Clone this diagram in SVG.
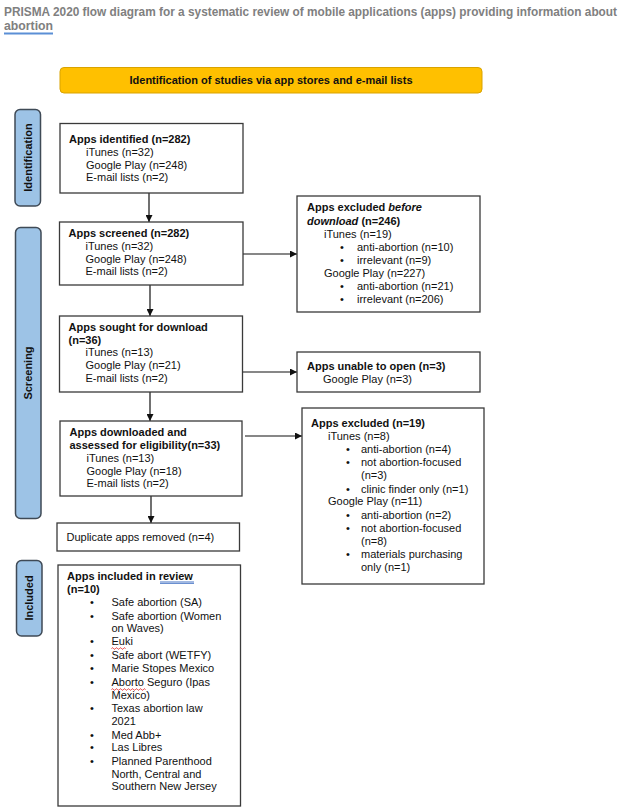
<svg xmlns="http://www.w3.org/2000/svg" width="625" height="811" viewBox="0 0 625 811">
<style>
.t{font-family:"Liberation Sans",Arial,sans-serif;font-size:11px;fill:#111}
.b{font-weight:bold}
.i{font-style:italic}
.box{fill:#fff;stroke:#3a3a3a;stroke-width:1.3}
.bar{fill:#9dc3e6;stroke:#3f4a56;stroke-width:1.5}
.bl{font-family:"Liberation Sans",Arial,sans-serif;font-size:11px;font-weight:bold;fill:#111}
.ln{stroke:#111;stroke-width:1.2;fill:none}
.title{font-family:"Liberation Sans",Arial,sans-serif;font-size:12.5px;font-weight:bold;fill:#808080}
</style>
<defs>
<marker id="ah" viewBox="0 0 10 10" refX="10" refY="5" markerWidth="7" markerHeight="7" markerUnits="userSpaceOnUse" orient="auto">
<path d="M0,0 L10,5 L0,10 z" fill="#111"/>
</marker>
</defs>
<rect width="625" height="811" fill="#fff"/>
<g id="title">
<text class="title" x="4" y="15.5" textLength="180.7" lengthAdjust="spacingAndGlyphs">PRISMA 2020 flow diagram for a</text>
<text class="title" x="188" y="15.5" textLength="157.1" lengthAdjust="spacingAndGlyphs">systematic review of mobile</text>
<text class="title" x="348.3" y="15.5" textLength="164.9" lengthAdjust="spacingAndGlyphs">applications (apps) providing</text>
<text class="title" x="516.5" y="15.5" textLength="100.5" lengthAdjust="spacingAndGlyphs">information about</text>
<text class="title" x="4" y="30" textLength="49" lengthAdjust="spacingAndGlyphs">abortion</text>
<line x1="4" y1="33.5" x2="53" y2="33.5" stroke="#5b8fd6" stroke-width="2"/>
</g>
<g id="header">
<rect x="60" y="67.5" width="422" height="25.5" rx="4" fill="#ffc000" stroke="#d9a300" stroke-width="1"/>
<text class="t b" x="271" y="84" text-anchor="middle">Identification of studies via app stores and e-mail lists</text>
</g>
<g id="bar-identification">
<rect class="bar" x="15" y="109.5" width="25.5" height="96.5" rx="5"/>
<text class="bl" transform="translate(31.5,157.5) rotate(-90)" text-anchor="middle">Identification</text>
</g>
<g id="bar-screening">
<rect class="bar" x="15.5" y="227.5" width="25.5" height="291" rx="5"/>
<text class="bl" transform="translate(32,373) rotate(-90)" text-anchor="middle">Screening</text>
</g>
<g id="bar-included">
<rect class="bar" x="16.5" y="560.5" width="25.5" height="75.5" rx="5"/>
<text class="bl" transform="translate(33,598) rotate(-90)" text-anchor="middle">Included</text>
</g>
<g id="connectors">
<line class="ln" x1="149" y1="193" x2="149" y2="222" marker-end="url(#ah)"/>
<line class="ln" x1="150" y1="285" x2="150" y2="316" marker-end="url(#ah)"/>
<line class="ln" x1="150" y1="392" x2="150" y2="421" marker-end="url(#ah)"/>
<line class="ln" x1="151" y1="496" x2="151" y2="523" marker-end="url(#ah)"/>
<line class="ln" x1="243" y1="254" x2="297" y2="254" marker-end="url(#ah)"/>
<line class="ln" x1="242" y1="372" x2="297" y2="372" marker-end="url(#ah)"/>
<line class="ln" x1="245" y1="436" x2="302" y2="436" marker-end="url(#ah)"/>
</g>
<g id="n-identified">
<rect class="box" x="60" y="123.5" width="183" height="69.5"/>
<text class="t b" x="69" y="143">Apps identified (n=282)</text>
<text class="t" x="86" y="156">iTunes (n=32)</text>
<text class="t" x="86" y="168.5">Google Play (n=248)</text>
<text class="t" x="86" y="181">E-mail lists (n=2)</text>
</g>
<g id="n-screened">
<rect class="box" x="59.5" y="222" width="183.5" height="63"/>
<text class="t b" x="68.5" y="237">Apps screened (n=282)</text>
<text class="t" x="85.5" y="249.5">iTunes (n=32)</text>
<text class="t" x="85.5" y="262.5">Google Play (n=248)</text>
<text class="t" x="85.5" y="275">E-mail lists (n=2)</text>
</g>
<g id="n-excluded-before">
<rect class="box" x="297" y="196" width="183" height="116"/>
<text class="t b" x="307" y="211">Apps excluded <tspan class="i">before</tspan></text>
<text class="t b" x="307" y="224.5"><tspan class="i">download</tspan> (n=246)</text>
<text class="t" x="324" y="237.5">iTunes (n=19)</text>
<text class="t" x="340" y="250.5">•</text>
<text class="t" x="357" y="250.5">anti-abortion (n=10)</text>
<text class="t" x="340" y="263.5">•</text>
<text class="t" x="357" y="263.5">irrelevant (n=9)</text>
<text class="t" x="324" y="276.5">Google Play (n=227)</text>
<text class="t" x="340" y="290">•</text>
<text class="t" x="357" y="290">anti-abortion (n=21)</text>
<text class="t" x="340" y="303">•</text>
<text class="t" x="357" y="303">irrelevant (n=206)</text>
</g>
<g id="n-sought">
<rect class="box" x="59.5" y="316" width="183" height="76"/>
<text class="t b" x="68.5" y="331">Apps sought for download</text>
<text class="t b" x="68.5" y="343.5">(n=36)</text>
<text class="t" x="85.5" y="356">iTunes (n=13)</text>
<text class="t" x="85.5" y="369">Google Play (n=21)</text>
<text class="t" x="85.5" y="382">E-mail lists (n=2)</text>
</g>
<g id="n-unable">
<rect class="box" x="297" y="352" width="183" height="40"/>
<text class="t b" x="307" y="370">Apps unable to open (n=3)</text>
<text class="t" x="323" y="382.5">Google Play (n=3)</text>
</g>
<g id="n-downloaded">
<rect class="box" x="60" y="421" width="182" height="75"/>
<text class="t b" x="69.5" y="436">Apps downloaded and</text>
<text class="t b" x="69.5" y="449">assessed for eligibility(n=33)</text>
<text class="t" x="86.5" y="461.5">iTunes (n=13)</text>
<text class="t" x="86.5" y="474.5">Google Play (n=18)</text>
<text class="t" x="86.5" y="487">E-mail lists (n=2)</text>
</g>
<g id="n-excluded">
<rect class="box" x="302" y="408" width="182" height="176"/>
<text class="t b" x="311" y="427">Apps excluded (n=19)</text>
<text class="t" x="328" y="439.5">iTunes (n=8)</text>
<text class="t" x="346" y="453">•</text>
<text class="t" x="361" y="453">anti-abortion (n=4)</text>
<text class="t" x="346" y="466">•</text>
<text class="t" x="361" y="466">not abortion-focused</text>
<text class="t" x="361" y="478.5">(n=3)</text>
<text class="t" x="346" y="492.5">•</text>
<text class="t" x="361" y="492.5">clinic finder only (n=1)</text>
<text class="t" x="328" y="505">Google Play (n=11)</text>
<text class="t" x="346" y="518.5">•</text>
<text class="t" x="361" y="518.5">anti-abortion (n=2)</text>
<text class="t" x="346" y="532">•</text>
<text class="t" x="361" y="532">not abortion-focused</text>
<text class="t" x="361" y="545">(n=8)</text>
<text class="t" x="346" y="558">•</text>
<text class="t" x="361" y="558">materials purchasing</text>
<text class="t" x="361" y="571">only (n=1)</text>
</g>
<g id="n-duplicates">
<rect class="box" x="57" y="523" width="182.5" height="28"/>
<text class="t" x="66.5" y="540.5">Duplicate apps removed (n=4)</text>
</g>
<g id="n-included">
<rect class="box" x="58" y="565" width="182.5" height="241"/>
<text class="t b" x="67" y="579.5">Apps included in review</text>
<line x1="160" y1="582" x2="194" y2="582" stroke="#4472c4" stroke-width="1"/>
<line x1="160" y1="583.5" x2="194" y2="583.5" stroke="#4472c4" stroke-width="0.8"/>
<text class="t b" x="67" y="592.5">(n=10)</text>
<text class="t" x="90" y="606">•</text><text class="t" x="111.5" y="606">Safe abortion (SA)</text>
<text class="t" x="90" y="619.5">•</text><text class="t" x="111.5" y="619.5">Safe abortion (Women</text>
<text class="t" x="111.5" y="632">on Waves)</text>
<text class="t" x="90" y="645">•</text><text class="t" x="111.5" y="645">Euki</text>
<path d="M111.5,648.5 q1,-1.5 2,0 t2,0 t2,0 t2,0 t2,0 t2,0 t2,0" fill="none" stroke="#e02020" stroke-width="0.9"/>
<text class="t" x="90" y="658.5">•</text><text class="t" x="111.5" y="658.5">Safe abort (WETFY)</text>
<text class="t" x="90" y="672">•</text><text class="t" x="111.5" y="672">Marie Stopes Mexico</text>
<text class="t" x="90" y="686">•</text><text class="t" x="111.5" y="686">Aborto Seguro (Ipas</text>
<path d="M111.5,689.5 q1,-1.5 2,0 t2,0 t2,0 t2,0 t2,0 t2,0 t2,0 t2,0 t2,0 t2,0 t2,0 t2,0 t2,0 t2,0 t2,0 t2,0 t2,0" fill="none" stroke="#e02020" stroke-width="0.9"/>
<text class="t" x="111.5" y="698.5">Mexico)</text>
<text class="t" x="90" y="712">•</text><text class="t" x="111.5" y="712">Texas abortion law</text>
<text class="t" x="111.5" y="724.5">2021</text>
<text class="t" x="90" y="738.5">•</text><text class="t" x="111.5" y="738.5">Med Abb+</text>
<text class="t" x="90" y="751">•</text><text class="t" x="111.5" y="751">Las Libres</text>
<text class="t" x="90" y="765">•</text><text class="t" x="111.5" y="765">Planned Parenthood</text>
<text class="t" x="111.5" y="777.5">North, Central and</text>
<text class="t" x="111.5" y="790">Southern New Jersey</text>
</g>
</svg>
